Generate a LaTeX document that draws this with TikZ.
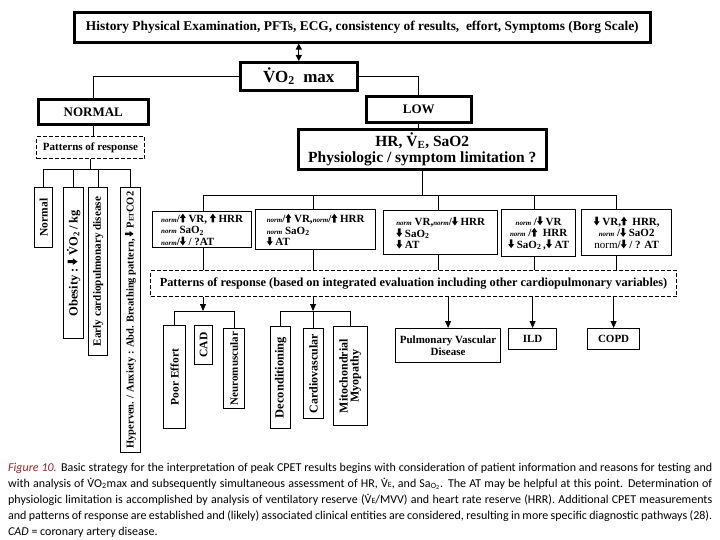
\documentclass[tikz,border=0pt]{standalone}
\usepackage{fontspec}
\usepackage{graphicx}
\setmainfont{Liberation Serif}
\newfontfamily\capfont{Carlito}
\usetikzlibrary{arrows.meta}
\definecolor{figred}{RGB}{150,40,40}
\newcommand\fs[2]{\fontsize{#1}{#2}\selectfont}
\newcommand\ua{\tikz[baseline=0pt,x=1em,y=1em]\fill (0.15,0)--(0.15,0.42)--(0,0.42)--(0.27,0.8)--(0.54,0.42)--(0.39,0.42)--(0.39,0)--cycle;}
\newcommand\da{\tikz[baseline=0pt,x=1em,y=1em]\fill (0.15,0.8)--(0.15,0.38)--(0,0.38)--(0.27,0)--(0.54,0.38)--(0.39,0.38)--(0.39,0.8)--cycle;}
\newcommand\nrm{{\fs{7}{7}\itshape norm}}
\newcommand\Vdt{\ooalign{V\cr\hidewidth\raisebox{0.62em}{.}\hidewidth\cr}}
\begin{document}
\begin{tikzpicture}[x=1pt,y=-1pt,
  tbox/.style={draw, line width=2.6pt, inner sep=1pt, anchor=north west, font=\bfseries},
  mbox/.style={draw, line width=1.3pt, inner sep=2pt, anchor=north west, align=left, font=\bfseries\fs{11}{11.5}},
  dbox/.style={draw, line width=1.1pt, dash pattern=on 4pt off 2pt, inner sep=1pt, anchor=north west, font=\bfseries\fs{11}{13}},
  vbox/.style={draw, line width=1.2pt, inner sep=1pt, anchor=north west, font=\bfseries\fs{11.5}{12}},
  obox/.style={draw, line width=1.2pt, inner sep=1pt, anchor=north west, align=center, font=\bfseries\fs{11}{12.5}},
  conn/.style={line width=0.8pt},
  arr/.style={line width=0.8pt, -{Triangle[length=7pt,width=6pt]}},
  dbl/.style={line width=1.2pt, {Triangle[length=6pt,width=6pt]}-{Triangle[length=6pt,width=6pt]}}]
\useasboundingbox (0,0) rectangle (720,540);
\fill[white] (0,0) rectangle (720,540);

% top part
\node[tbox, minimum width=576pt, minimum height=30pt, font=\bfseries\fs{13.4}{15}] (top) at (73,11)
  {History Physical Examination, PFTs, ECG, consistency of results,\ \ effort, Symptoms (Borg Scale)};
\node[tbox, minimum width=117pt, minimum height=28pt, font=\bfseries\fs{17}{19}] (vo2) at (239,61)
  {\.{V}O\textsubscript{2}\ \ max};
\draw[dbl] (top.south -| vo2.north) -- (vo2.north);

\node[tbox, minimum width=110pt, minimum height=25pt, font=\bfseries\fs{13}{15}] (normal) at (37,98) {NORMAL};
\node[tbox, minimum width=105pt, minimum height=26pt, font=\bfseries\fs{13}{15}] (low) at (365,95) {LOW};
\draw[conn] (vo2.west) -| (normal.north);
\draw[conn] (vo2.east) -| (low.north);

\node[tbox, minimum width=248pt, minimum height=40pt, align=center, font=\bfseries\fs{15.5}{16}] (hr) at (297,128)
  {HR, \.{V}\textsubscript{E}, SaO2\\Physiologic / symptom limitation ?};
\draw[conn] (low.south) -- (low.south |- hr.north);

% left branch
\node[dbox, minimum width=108pt, minimum height=22pt] (patl) at (36,136) {Patterns of response};
\draw[conn] (normal.south) -- (normal.south |- patl.north);
\coordinate (lj) at (90,169);
\node[vbox, minimum width=18pt, minimum height=60pt] (nrm) at (34,187) {\rotatebox{90}{Normal}};
\node[vbox, minimum width=20pt, minimum height=151pt, font=\bfseries\fs{12.5}{13}] (obe) at (63,187)
  {\rotatebox{90}{Obesity\ :\ \da\ \.{V}O\textsubscript{2}\,/ kg}};
\node[vbox, minimum width=19pt, minimum height=168pt, font=\bfseries\fs{11.2}{12}] (ecd) at (88,187)
  {\rotatebox{90}{Early cardiopulmonary disease}};
\node[vbox, minimum width=20pt, minimum height=265pt, font=\bfseries\fs{10.5}{11}] (hyp) at (120,187)
  {\rotatebox{90}{Hyperven. / Anxiety : Abd. Breathing pattern, \da\ P{\fs{7}{7}ET}CO2}};
\draw[conn] (patl.south) -- (patl.south |- lj);
\draw[conn] (nrm.north) -- (nrm.north |- lj) -- (hyp.north |- lj) -- (hyp.north);
\draw[conn] (obe.north |- lj) -- (obe.north);
\draw[conn] (ecd.north |- lj) -- (ecd.north);

% five boxes
\coordinate (c1) at (203,195);
\coordinate (c2) at (313,195);
\coordinate (c3) at (438,195);
\coordinate (c4) at (534,195);
\coordinate (c5) at (616,195);
\draw[conn] (hr.south) -- (hr.south |- c1);
\draw[conn] (c1) -- (c5);
\node[mbox, minimum width=99pt, minimum height=36pt] (b1) at (152,211)
  {\nrm/\ua\ VR, \ua\ HRR\\ \nrm\ SaO\textsubscript{2}\\ \nrm/\da\ / ?AT};
\node[mbox, minimum width=120pt, minimum height=40pt] (b2) at (255,209)
  {\nrm/\ua\ VR,\nrm/\ua\ HRR\\ \nrm\ SaO\textsubscript{2}\\ \da\ AT};
\node[mbox, minimum width=114pt, minimum height=44pt] (b3) at (383,210)
  {\nrm\ VR,\nrm/\da\ HRR\\ \da\ SaO\textsubscript{2}\\ \da\ AT};
\node[mbox, minimum width=74pt, minimum height=47pt, align=center] (b4) at (501,209)
  {\nrm\ /\da\ VR\\ \nrm\ /\ua\ \ HRR\\ \da\ SaO\textsubscript{2}\,,\da\ AT};
\node[mbox, minimum width=90pt, minimum height=46pt, align=center] (b5) at (581,209)
  {\da\ VR,\ua\ \ HRR,\\ \nrm\ /\da\ SaO2\\ {\mdseries norm}/\da\ / ? AT};
\draw[conn] (c1) -- (c1 |- b1.north);
\draw[conn] (c2) -- (c2 |- b2.north);
\draw[conn] (c3) -- (c3 |- b3.north);
\draw[conn] (c4) -- (c4 |- b4.north);
\draw[conn] (c5) -- (c5 |- b5.north);

\node[dbox, minimum width=526pt, minimum height=26pt, font=\bfseries\fs{12.3}{13}] (pat) at (150,270)
  {Patterns of response (based on integrated evaluation including other cardiopulmonary variables)};
\draw[conn] (c1 |- b1.south) -- (c1 |- pat.north);
\draw[conn] (c2 |- b2.south) -- (c2 |- pat.north);
\draw[conn] (c3 |- b3.south) -- (c3 |- pat.north);
\draw[conn] (c4 |- b4.south) -- (c4 |- pat.north);
\draw[conn] (c5 |- b5.south) -- (c5 |- pat.north);

% outcomes group 1
\coordinate (g1) at (203,311);
\node[vbox, minimum width=22pt, minimum height=103pt] (pe) at (163,325) {\rotatebox{90}{Poor Effort}};
\node[vbox, minimum width=18pt, minimum height=39pt] (cad) at (194,325) {\rotatebox{90}{CAD}};
\node[vbox, minimum width=21pt, minimum height=80pt, font=\bfseries\fs{11}{12}] (nm) at (223,328) {\rotatebox{90}{Neuromuscular}};
\draw[arr] (c1 |- pat.south) -- (g1);
\draw[conn] (pe.north) -- (pe.north |- g1) -- (nm.north |- g1) -- (nm.north);

% outcomes group 2
\coordinate (g2) at (313,311);
\node[vbox, minimum width=20pt, minimum height=102pt, font=\bfseries\fs{12.5}{13}] (dc) at (270,326) {\rotatebox{90}{Deconditioning}};
\node[vbox, minimum width=20pt, minimum height=90pt, font=\bfseries\fs{12}{13}] (cv) at (303,328) {\rotatebox{90}{Cardiovascular}};
\node[vbox, minimum width=34pt, minimum height=99pt, font=\bfseries\fs{12}{13}] (mm) at (333,326)
  {\rotatebox{90}{\begin{tabular}{@{}c@{}}Mitochondrial\\[-2pt]Myopathy\end{tabular}}};
\draw[arr] (c2 |- pat.south) -- (g2);
\draw[conn] (dc.north) -- (dc.north |- g2) -- (mm.north |- g2) -- (mm.north);
\draw[conn] (g2) -- (g2 |- cv.north);

% outcomes right
\node[obox, minimum width=105pt, minimum height=34pt] (pvd) at (395,328) {Pulmonary Vascular\\Disease};
\node[obox, minimum width=48pt, minimum height=21pt] (ild) at (508,328) {ILD};
\node[obox, minimum width=52pt, minimum height=21pt] (copd) at (587,328) {COPD};
\draw[arr] (pvd.north |- pat.south) -- (pvd.north);
\draw[arr] (ild.north |- pat.south) -- (ild.north);
\draw[arr] (copd.north |- pat.south) -- (copd.north);

% caption
\tikzset{capline/.style={anchor=base west, inner sep=0pt, font=\capfont\fs{12}{14}}}
\node[capline] (cap1) at (8,471) {\makebox[704pt][s]{{\color{figred}\itshape Figure 10.} Basic strategy for the interpretation of peak CPET results begins with consideration of patient information and reasons for testing and}};
\node[capline] (cap2) at (8,487) {\makebox[704pt][s]{with analysis of \Vdt{}O\textsubscript{2}max and subsequently simultaneous assessment of HR, \Vdt{\fs{8}{8}E}, and Sa\textsubscript{O\textsubscript{2}}. The AT may be helpful at this point. Determination of}};
\node[capline] (cap3) at (8,503) {\makebox[704pt][s]{physiologic limitation is accomplished by analysis of ventilatory reserve (\Vdt{\fs{8}{8}E}/MVV) and heart rate reserve (HRR). Additional CPET measurements}};
\node[capline] (cap4) at (8,519) {\makebox[704pt][s]{and patterns of response are established and (likely) associated clinical entities are considered, resulting in more specific diagnostic pathways (28).}};
\node[capline] (cap5) at (8,535) {\textit{CAD} = coronary artery disease.};
\end{tikzpicture}
\end{document}
